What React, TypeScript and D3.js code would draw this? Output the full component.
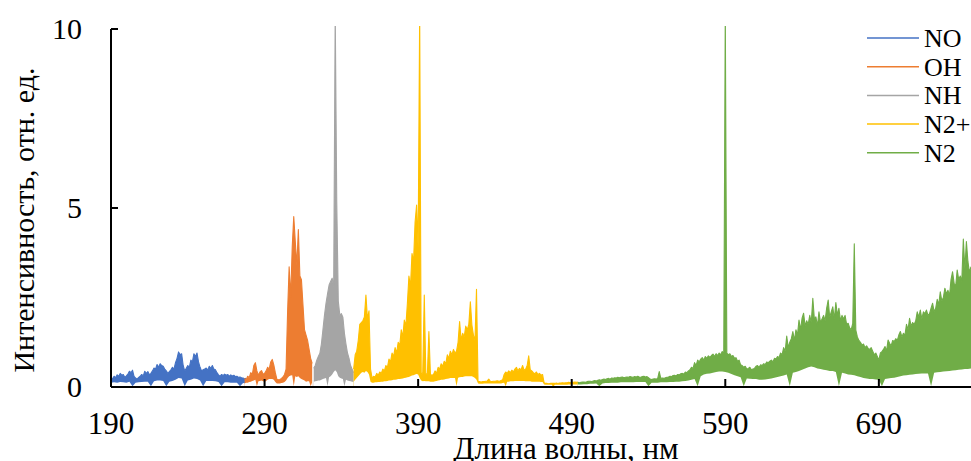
import React from "react";
import * as d3 from "d3";

// ---- data ----
// Each band: upper trace values on a grid (start, step) and lower trace values on its own grid.
const NO_START = 190;
const NO_STEP = 1;
const NO_HI = [
  0.28,0.22,0.3,0.26,0.34,0.3,0.38,0.33,0.35,0.27,0.31,0.36,0.44,0.4,0.47,0.3,0.25,0.22,0.27,0.3,
  0.35,0.31,0.44,0.38,0.43,0.34,0.38,0.45,0.53,0.5,0.63,0.55,0.65,0.6,0.58,0.5,0.45,0.38,0.43,0.48,
  0.55,0.5,0.68,0.8,0.98,0.9,0.93,0.6,0.45,0.52,0.6,0.55,0.75,0.7,0.93,0.85,0.95,0.7,0.55,0.45,
  0.48,0.5,0.53,0.47,0.58,0.52,0.6,0.5,0.48,0.4,0.34,0.3,0.35,0.32,0.36,0.33,0.35,0.3,0.34,0.31,
  0.33,0.29,0.3,0.27,0.28,0.26,0.25,0.23,0.24
];
const NO_LO_STEP = 2;
const NO_LO = [0.12,0.13,0.12,0.14,0.13,0.12,0.15,0.02,0.12,0.13,0.14,0.15,0.15,0.02,0.16,0.18,0.18,0.17,0.02,0.15,0.17,0.2,0.25,0.24,0.02,0.18,0.2,0.24,0.22,0.18,0.02,0.17,0.17,0.17,0.16,0.14,0.02,0.13,0.13,0.12,0.12,0.12,0.02,0.11,0.1];

const OH_START = 277;
const OH_STEP = 1;
const OH_HI = [0.24,0.2,0.3,0.26,0.4,0.35,0.6,0.68,0.45,0.33,0.42,0.46,0.36,0.38,0.45,0.55,0.5,0.7,0.77,0.62,0.4,0.22,0.2,0.21,0.24,0.28,0.35,0.5,2.1,3.36,2.5,3.9,4.76,4.06,3.4,4.4,3.1,3.0,2.3,1.6,1.45,1.3,1.05,0.8,0.66];
const OH_LO_STEP = 1;
const OH_LO = [0.1,0.12,0.12,0.14,0.15,0.17,0.18,0.2,0.02,0.16,0.17,0.18,0.16,0.15,0.17,0.2,0.22,0.22,0.22,0.2,0.14,0.1,0.1,0.1,0.11,0.12,0.14,0.18,0.25,0.3,0.32,0.33,0.02,0.3,0.28,0.3,0.25,0.22,0.2,0.18,0.15,0.16,0.16,0.02,0.13];

const NH_START = 322;
const NH_STEP = 1;
const NH_HI = [0.52,0.6,0.75,0.85,0.94,1.2,1.6,2.0,2.34,2.6,2.85,2.95,3.04,2.8,10.5,5.18,2.4,2.0,2.05,1.95,1.5,1.2,0.95,0.8,0.6,0.5,0.4];
const NH_LO_STEP = 1;
const NH_LO = [0.15,0.16,0.17,0.18,0.18,0.2,0.22,0.24,0.25,0.02,0.27,0.3,0.35,0.42,0.47,0.42,0.3,0.26,0.24,0.22,0.02,0.2,0.18,0.17,0.16,0.15,0.14];

const N2P_START = 348;
const N2P_STEP = 1;
const N2P_HI = [
  0.5,0.9,1.0,1.3,1.75,1.8,1.85,1.96,2.57,1.9,2.13,0.5,
  0.25,0.3,0.28,0.38,0.33,0.42,0.38,0.5,0.45,0.6,0.55,0.78,0.7,0.95,0.85,1.1,0.95,1.25,1.15,1.6,1.4,1.87,1.7,2.34,3.1,2.8,3.73,3.5,4.6,5.08,3.9,10.5,
  0.35,0.4,2.57,0.38,0.35,1.55,0.35,0.33,
  0.35,0.45,0.38,0.55,0.5,0.65,0.58,0.72,0.65,0.9,0.8,1.0,0.9,1.05,0.95,1.0,1.25,1.83,1.31,1.5,1.4,1.7,1.6,1.75,2.38,1.73,1.45,1.3,2.73,
  0.15,0.15,0.14,0.15,0.15,0.16,0.17,0.22,0.16,0.15,0.16,0.16,0.17,0.17,0.16,0.18,0.2,
  0.35,0.42,0.38,0.45,0.4,0.47,0.42,0.5,0.55,0.45,0.52,0.48,0.6,0.47,0.5,0.6,0.87,0.48,0.45,0.4,0.37,0.42,0.35,0.38,0.33,0.35,
  0.12,0.1,0.1,0.09,0.1,0.1,0.1,0.1,0.11,0.1,0.11,0.11,0.12,0.11,0.12,0.12,0.13,0.12,0.13,0.13,0.14,0.13,0.14
];
const N2P_LO_STEP = 1;
const N2P_LO = [
  0.15,0.2,0.25,0.3,0.35,0.4,0.42,0.4,0.45,0.42,0.35,0.15,
  0.12,0.12,0.13,0.13,0.14,0.14,0.15,0.15,0.16,0.16,0.17,0.18,0.18,0.19,0.2,0.2,0.21,0.22,0.22,0.23,0.24,0.25,0.26,0.27,
  0.28,0.3,0.32,0.33,0.35,0.36,0.35,0.25,0.18,0.16,0.17,0.16,0.16,0.16,0.15,0.15,0.15,0.16,
  0.17,0.18,0.19,0.2,0.2,0.21,0.22,0.23,0.24,0.25,0.25,0.25,0.25,0.02,0.26,0.27,0.28,0.28,0.29,0.3,0.3,0.3,0.3,0.3,0.28,0.25,0.2,
  0.1,0.09,0.09,0.09,0.1,0.1,0.1,0.1,0.1,0.1,0.1,0.1,0.1,0.1,0.1,0.1,0.11,
  0.12,0.02,0.15,0.15,0.16,0.16,0.16,0.17,0.17,0.17,0.17,0.17,0.17,0.17,0.16,0.16,0.16,0.16,0.15,0.15,0.15,0.15,0.15,0.15,0.14,0.14,
  0.07,0.06,0.06,0.06,0.06,0.06,0.0,0.06,0.06,0.06,0.06,0.06,0.06,0.06,0.06,0.06,0.07,0.07,0.07,0.07,0.07,0.07,0.07
];

const N2_START = 494;
const N2_STEP = 1;
const N2_HI = [
  0.13,0.12,0.13,0.14,0.14,0.13,0.15,0.16,0.16,0.15,0.17,0.18,0.17,0.19,0.2,0.19,
  0.21,0.22,0.21,0.23,0.24,0.22,0.25,0.24,0.26,0.25,0.27,0.26,0.27,0.28,0.26,0.27,0.28,0.27,0.29,0.28,0.27,0.29,0.28,0.3,0.28,0.27,0.29,0.3,0.28,0.29,
  0.26,0.22,0.21,0.22,0.23,0.22,0.24,0.43,0.24,0.25,0.24,0.26,0.27,0.28,0.3,0.29,0.32,0.33,0.31,0.35,0.34,0.37,0.38,0.36,0.42,0.4,0.45,0.48,0.55,0.52,
  0.68,0.6,0.75,0.7,0.78,0.82,0.75,0.85,0.8,0.87,0.83,0.88,0.92,0.85,0.93,0.88,0.95,0.9,0.99,0.93,
  10.5,
  0.95,0.9,0.93,0.85,0.88,0.8,0.82,0.72,0.75,0.62,0.6,0.55,0.58,0.5,0.52,0.55,0.48,0.5,0.52,
  0.58,0.6,0.55,0.62,0.6,0.65,0.63,0.7,0.68,0.72,0.75,0.7,0.8,0.78,0.85,0.82,0.95,0.9,1.1,1.0,
  1.42,1.1,1.25,1.35,1.55,1.3,1.6,1.45,1.87,1.6,1.92,2.06,1.7,1.85,1.75,2.0,1.8,2.48,1.9,1.96,
  1.7,2.1,1.8,1.9,2.0,1.85,2.2,2.43,1.95,2.1,2.24,1.9,2.36,2.0,2.2,1.85,2.0,1.9,2.0,1.75,
  1.78,1.65,1.6,1.78,4.0,1.59,1.4,1.3,1.25,1.17,1.2,1.1,1.15,1.08,1.05,1.1,1.0,0.9,0.95,0.85,
  0.75,0.95,0.99,1.05,1.13,1.0,1.31,1.22,1.15,1.3,1.27,1.35,1.3,1.45,1.55,1.4,1.5,1.45,1.75,1.6,
  1.92,1.7,1.8,1.75,1.85,2.1,1.95,2.15,1.9,2.1,2.05,2.15,2.0,2.05,2.2,2.34,2.1,2.2,2.45,2.3,
  2.66,2.4,2.5,2.76,2.6,2.7,2.55,3.0,3.22,2.9,2.8,3.27,3.0,3.1,2.95,4.13,3.3,4.06,3.5,3.2,3.36
];
const N2_LO_STEP = 2;
const N2_LO = [
  0.07,0.07,0.08,0.08,0.09,0.09,0.1,0.02,0.1,0.11,0.11,0.12,0.12,0.12,0.13,0.13,0.13,0.13,0.13,0.14,0.14,0.14,0.14,0.02,
  0.12,0.12,0.12,0.13,0.13,0.13,0.14,0.14,0.15,0.15,0.16,0.17,0.18,0.2,0.22,0.02,0.3,0.35,0.37,0.38,0.4,0.42,0.43,0.43,0.42,0.4,0.36,0.33,0.3,0.27,
  0.02,0.24,0.23,0.22,0.22,0.2,0.2,0.21,0.22,0.24,0.26,0.28,0.3,0.32,0.35,0.02,0.4,0.42,0.45,0.48,0.52,0.55,0.57,0.55,0.52,
  0.5,0.48,0.47,0.45,0.45,0.42,0.02,0.4,0.38,0.35,0.34,0.33,0.3,0.28,0.25,0.24,0.22,0.22,0.21,0.2,0.02,0.22,0.24,0.25,0.26,
  0.28,0.3,0.32,0.33,0.34,0.35,0.36,0.37,0.38,0.38,0.38,0.02,0.4,0.41,0.42,0.43,0.44,0.45,0.46,0.47,0.48,0.49,0.5,0.5,0.52
];

const SERIES_NAMES = ["NO", "OH", "NH", "N2+", "N2"];
const SERIES_COLORS = ["#4472C4", "#ED7D31", "#A5A5A5", "#FFC000", "#70AD47"];
const X_TICKS = [190, 290, 390, 490, 590, 690];
const Y_TICKS = [0, 5, 10];
const X_DOMAIN = [190, 750];
const Y_DOMAIN = [0, 10];
const X_TITLE = "Длина волны, нм";
const Y_TITLE = "Интенсивность, отн. ед.";

const FONT = "'Liberation Serif', 'Times New Roman', serif";

type P = [number, number];

export default function App() {
  const W = 971, H = 461;
  const left = 111, right = 971, top = 29, bottom = 387;
  const x = d3.scaleLinear().domain(X_DOMAIN).range([left, right]);
  const y = d3.scaleLinear().domain(Y_DOMAIN).range([bottom, top]);
  const area = d3.area<P>().x(d => x(d[0])).y0(y(0)).y1(d => y(d[1]));
  const line = d3.line<P>().x(d => x(d[0])).y(d => y(d[1]));

  const bands = [
    { start: NO_START, step: NO_STEP, hi: NO_HI, loStep: NO_LO_STEP, lo: NO_LO },
    { start: OH_START, step: OH_STEP, hi: OH_HI, loStep: OH_LO_STEP, lo: OH_LO },
    { start: NH_START, step: NH_STEP, hi: NH_HI, loStep: NH_LO_STEP, lo: NH_LO },
    { start: N2P_START, step: N2P_STEP, hi: N2P_HI, loStep: N2P_LO_STEP, lo: N2P_LO },
    { start: N2_START, step: N2_STEP, hi: N2_HI, loStep: N2_LO_STEP, lo: N2_LO },
  ].map((s, k) => {
    const hiPts: P[] = s.hi.map((v, i) => [s.start + i * s.step, v]);
    const loPts: P[] = s.lo.map((v, i) => [s.start + i * s.loStep, v]);
    return {
      name: SERIES_NAMES[k],
      color: SERIES_COLORS[k],
      upper: area(hiPts) || "",
      edge: line(hiPts) || "",
      lower: area(loPts) || "",
    };
  });

  return (
    <svg width={W} height={H} style={{ position: "absolute", left: 0, top: 0, background: "#fff" }}
      fontFamily={FONT}>
      <defs>
        <clipPath id="plot">
          <rect x={left} y={26} width={right - left} height={bottom - 26} />
        </clipPath>
      </defs>
      <rect x={0} y={0} width={W} height={H} fill="#fff" />
      <g clipPath="url(#plot)">
        {bands.map(s => (
          <g key={s.name}>
            <path d={s.upper} fill={s.color} stroke="none" />
            <path d={s.edge} fill="none" stroke={s.color} strokeWidth={1.1} strokeLinejoin="round" />
            <path d={s.lower} fill="#fff" stroke="none" />
          </g>
        ))}
      </g>
      {/* axes */}
      <line x1={left} x2={right} y1={bottom} y2={bottom} stroke="#000" strokeWidth={2} />
      <line x1={left} x2={left} y1={top} y2={bottom} stroke="#000" strokeWidth={2} />
      {Y_TICKS.map(t => (
        <g key={"y" + t}>
          <line x1={left} x2={left + 7} y1={y(t)} y2={y(t)} stroke="#000" strokeWidth={2} />
          <text x={82} y={y(t) + 10} textAnchor="end" fontSize={30}>{t}</text>
        </g>
      ))}
      {X_TICKS.map(t => (
        <g key={"x" + t}>
          <line x1={x(t)} x2={x(t)} y1={bottom} y2={bottom - 8} stroke="#000" strokeWidth={2} />
          <text x={x(t)} y={434} textAnchor="middle" fontSize={31}>{t}</text>
        </g>
      ))}
      <text x={566} y={459} textAnchor="middle" fontSize={31}>{X_TITLE}</text>
      <text transform={`translate(34,220) rotate(-90)`} textAnchor="middle" fontSize={30}>{Y_TITLE}</text>
      {/* legend */}
      {bands.map((s, i) => (
        <g key={"lg" + s.name}>
          <line x1={867} x2={919} y1={38 + i * 28.7} y2={38 + i * 28.7} stroke={s.color} strokeWidth={1.5} />
          <text x={924} y={38 + i * 28.7 + 9} fontSize={26}>{s.name}</text>
        </g>
      ))}
    </svg>
  );
}
